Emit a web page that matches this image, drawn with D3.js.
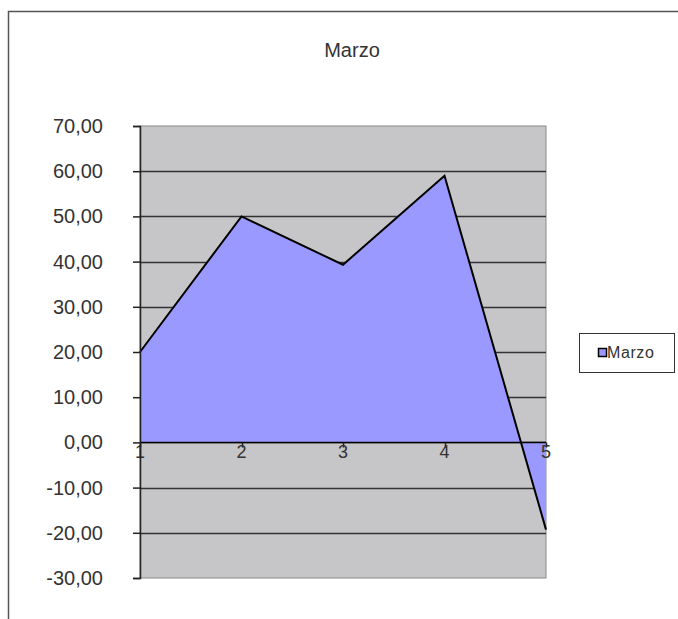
<!DOCTYPE html>
<html>
<head>
<meta charset="utf-8">
<script src="https://cdn.jsdelivr.net/npm/d3@7"></script>
<style>
  body { margin: 0; background: #fff; }
  svg { display: block; font-family: "Liberation Sans", Arial, sans-serif; }
</style>
</head>
<body>
<svg width="678" height="619"></svg>
<script>
// data
var categories = ["1", "2", "3", "4", "5"];
var marzo = [20, 50, 39.3, 59, -19.3];
var yTicks = [-30, -20, -10, 0, 10, 20, 30, 40, 50, 60, 70];
var seriesName = "Marzo";
var title = "Marzo";

var svg = d3.select("svg");

// outer frame (chart area border)
svg.append("path")
  .attr("d", "M8.5,619 V11.5 H678")
  .attr("fill", "none")
  .attr("stroke", "#555")
  .attr("stroke-width", 1.5);

var plot = {left: 140, right: 546, top: 126, bottom: 578};

var x = d3.scalePoint().domain(categories).range([plot.left, plot.right]);
var y = d3.scaleLinear().domain([-30, 70]).range([plot.bottom, plot.top]);

// plot background
svg.append("rect")
  .attr("x", plot.left).attr("y", plot.top)
  .attr("width", plot.right - plot.left).attr("height", plot.bottom - plot.top)
  .attr("fill", "#c6c5c7")
  .attr("stroke", "#8a8a8a").attr("stroke-width", 1);

// gridlines
svg.append("g").selectAll("line").data(yTicks.filter(function(d) { return d != -30 && d != 70; }))
  .enter().append("line")
  .attr("x1", plot.left).attr("x2", plot.right)
  .attr("y1", function(d) { return Math.round(y(d)) + 0.5; })
  .attr("y2", function(d) { return Math.round(y(d)) + 0.5; })
  .attr("stroke", "#333").attr("stroke-width", 1.3);

// area
var data = categories.map(function(c, i) { return {c: c, v: marzo[i]}; });
var area = d3.area().x(function(d) { return x(d.c); }).y0(y(0)).y1(function(d) { return y(d.v); });
var line = d3.line().x(function(d) { return x(d.c); }).y(function(d) { return y(d.v); });

svg.append("path").datum(data).attr("d", area).attr("fill", "#9999ff");
svg.append("path").datum(data).attr("d", line)
  .attr("fill", "none").attr("stroke", "#000").attr("stroke-width", 2)
  .attr("stroke-linejoin", "miter");

// category axis at zero
var zeroY = Math.round(y(0)) + 0.5;
svg.append("line")
  .attr("x1", plot.left).attr("x2", plot.right)
  .attr("y1", zeroY).attr("y2", zeroY)
  .attr("stroke", "#000").attr("stroke-width", 1.5);
svg.append("g").selectAll("line").data(categories).enter().append("line")
  .attr("x1", function(d) { return Math.round(x(d)) + 0.5; })
  .attr("x2", function(d) { return Math.round(x(d)) + 0.5; })
  .attr("y1", zeroY).attr("y2", zeroY + 5)
  .attr("stroke", "#222").attr("stroke-width", 1.5);

svg.append("g").selectAll("text").data(categories).enter().append("text")
  .attr("x", function(d) { return x(d); })
  .attr("y", y(0) + 16)
  .attr("text-anchor", "middle")
  .attr("font-size", 18)
  .attr("fill", "#333")
  .text(function(d) { return d; });

// value axis
var fmt = function(d) { return d3.format(".2f")(d).replace(".", ",").replace("\u2212", "-"); };
var yAxis = svg.append("g")
  .attr("transform", "translate(" + plot.left + ",0)")
  .call(d3.axisLeft(y).tickValues(yTicks).tickSize(7).tickPadding(30).tickFormat(fmt));
yAxis.select(".domain").attr("stroke", "#222").attr("stroke-width", 1.5);
yAxis.selectAll(".tick line").attr("stroke", "#222").attr("stroke-width", 1.5);
yAxis.selectAll(".tick text")
  .attr("font-size", 20)
  .attr("font-family", "Liberation Sans, Arial, sans-serif")
  .attr("fill", "#333");

// title
svg.append("text")
  .attr("x", 352).attr("y", 57)
  .attr("text-anchor", "middle")
  .attr("font-size", 20)
  .attr("fill", "#333")
  .text(title);

// legend
var lg = svg.append("g").attr("transform", "translate(579,333)");
lg.append("rect").attr("x", 0.5).attr("y", 0.5).attr("width", 95).attr("height", 39)
  .attr("fill", "#fff").attr("stroke", "#333").attr("stroke-width", 1);
lg.append("rect").attr("x", 19.5).attr("y", 15.5).attr("width", 8).attr("height", 8)
  .attr("fill", "#9999ff").attr("stroke", "#000").attr("stroke-width", 1.5);
lg.append("text").attr("x", 28).attr("y", 25)
  .attr("font-size", 16).attr("fill", "#333")
  .attr("letter-spacing", 0.6)
  .text(seriesName);
</script>
</body>
</html>
